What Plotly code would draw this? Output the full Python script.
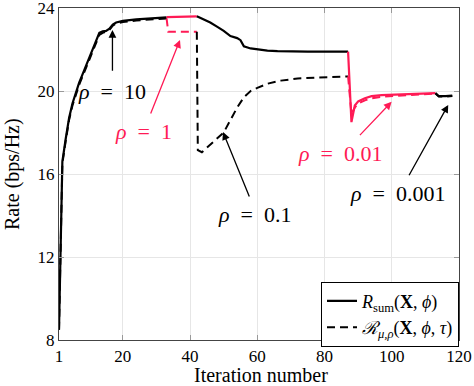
import plotly.graph_objects as go

RED = '#ff1a55'
FONT = 'Liberation Serif'

# R_sum(X, phi) solid line, pieces by rho value
sum_x_a = [1, 2, 3, 4, 5, 6, 7, 8, 9, 10, 11, 12, 13, 14, 15, 16, 17, 18, 20, 24, 28, 33]
sum_y_a = [8.5, 16.6, 17.7, 18.7, 19.4, 19.95, 20.4, 20.8, 21.2, 21.6, 22.0, 22.4, 22.8, 22.88,
           22.9, 23.0, 23.2, 23.3, 23.38, 23.45, 23.5, 23.55]
sum_x_b = [33, 36, 39, 42]
sum_y_b = [23.56, 23.58, 23.58, 23.6]
sum_x_c = [42, 44, 46, 48, 50, 52, 54, 55, 56, 58, 60, 63, 66, 70, 75, 80, 87]
sum_y_c = [23.6, 23.45, 23.3, 23.1, 22.9, 22.65, 22.55, 22.45, 22.15, 22.05, 22.0, 21.95,
           21.92, 21.9, 21.9, 21.9, 21.9]
sum_x_d = [87, 88, 89, 90, 92, 94, 97, 100, 104, 108, 113]
sum_y_d = [21.9, 18.5, 19.3, 19.5, 19.65, 19.75, 19.8, 19.82, 19.85, 19.88, 19.9]
sum_x_e = [113, 114, 116, 118]
sum_y_e = [19.9, 19.75, 19.75, 19.78]

# R_mu,rho(X, phi, tau) dashed line
pen_x_a = [1, 2, 3, 4, 5, 6, 7, 8, 9, 10, 11, 12, 13, 14, 15, 16, 17, 18, 20, 24, 28, 33]
pen_y_a = [8.5, 16.5, 17.6, 18.6, 19.3, 19.85, 20.3, 20.7, 21.1, 21.5, 21.9, 22.3, 22.7, 22.8,
           22.85, 22.95, 23.15, 23.25, 23.32, 23.4, 23.45, 23.5]
pen_x_b = [33, 33.5, 36, 39, 42]
pen_y_b = [23.5, 22.86, 22.86, 22.86, 22.86]
pen_x_c = [42, 42.3, 43.5, 46, 48, 50, 52, 54, 56, 58, 60, 63, 67, 72, 78, 87]
pen_y_c = [22.86, 17.15, 17.05, 17.4, 17.7, 18.0, 18.6, 19.2, 19.7, 20.0, 20.15, 20.35, 20.5,
           20.6, 20.65, 20.7]
pen_x_d = [87, 88, 89, 90, 92, 94, 97, 100, 104, 108, 113]
pen_y_d = [20.7, 18.9, 19.2, 19.4, 19.55, 19.65, 19.72, 19.75, 19.8, 19.85, 19.88]
pen_x_e = [113, 114, 116, 118]
pen_y_e = [19.88, 19.73, 19.73, 19.76]

# labels: text, text position, arrow head, arrow tail, colour
rho_text = ['<i>ρ</i>\u2002=\u200210', '<i>ρ</i>\u2002=\u20021', '<i>ρ</i>\u2002=\u20020.1',
            '<i>ρ</i>\u2002=\u20020.01', '<i>ρ</i>\u2002=\u20020.001']
rho_pos = [(16.9, 20.0), (26.0, 18.07), (59.3, 14.07), (84.6, 17.0), (101.6, 15.08)]
rho_head = [(16.9, 22.94), (37.0, 22.46), (49.8, 18.02), (99.96, 19.48), (116.8, 19.33)]
rho_tail = [(16.9, 20.9), (28.1, 18.84), (57.8, 14.84), (90.1, 17.8), (104.9, 15.87)]
rho_col = ['black', RED, 'black', RED, 'black']

x_ticks = [1, 20, 40, 60, 80, 100, 120]
y_ticks = [8, 12, 16, 20, 24]

fig = go.Figure()

dash = '8px,5px'
pen_parts = [(pen_x_a, pen_y_a, 'black'), (pen_x_b, pen_y_b, RED), (pen_x_c, pen_y_c, 'black'),
             (pen_x_d, pen_y_d, RED), (pen_x_e, pen_y_e, 'black')]
sum_parts = [(sum_x_a, sum_y_a, 'black'), (sum_x_b, sum_y_b, RED), (sum_x_c, sum_y_c, 'black'),
             (sum_x_d, sum_y_d, RED), (sum_x_e, sum_y_e, 'black')]

for xs, ys, c in pen_parts:
    fig.add_trace(go.Scatter(x=xs, y=ys, mode='lines', line=dict(color=c, width=2, dash=dash),
                             showlegend=False))
for xs, ys, c in sum_parts:
    fig.add_trace(go.Scatter(x=xs, y=ys, mode='lines', line=dict(color=c, width=2.2),
                             showlegend=False))

# legend entries
fig.add_trace(go.Scatter(x=[None], y=[None], mode='lines', line=dict(color='black', width=2.2),
                         name='<i>R</i><sub>sum</sub>(<b>X</b>, <i>ϕ</i>)'))
fig.add_trace(go.Scatter(x=[None], y=[None], mode='lines', line=dict(color='black', width=2, dash=dash),
                         name='<i>ℛ</i><sub><i>μ,ρ</i></sub>(<b>X</b>, <i>ϕ</i>, <i>τ</i>)'))

for t, p, h, tl, c in zip(rho_text, rho_pos, rho_head, rho_tail, rho_col):
    fig.add_annotation(x=h[0], y=h[1], ax=tl[0], ay=tl[1], axref='x', ayref='y', text='',
                       showarrow=True, arrowhead=2, arrowsize=1.2, arrowwidth=1.3, arrowcolor=c)
    fig.add_annotation(x=p[0], y=p[1], text=t, showarrow=False, font=dict(size=22, color=c, family=FONT))

# axis titles
fig.add_annotation(x=0.505, y=-0.105, xref='paper', yref='paper', text='Iteration number',
                   showarrow=False, yanchor='middle', font=dict(size=20, family=FONT))
fig.add_annotation(x=-0.1175, y=0.5, xref='paper', yref='paper', text='Rate (bps/Hz)', textangle=-90,
                   showarrow=False, xanchor='center', font=dict(size=20, family=FONT))

fig.update_layout(
    width=474, height=386,
    margin=dict(l=59, r=15, t=8, b=46),
    paper_bgcolor='white', plot_bgcolor='white',
    font=dict(family=FONT, size=17, color='black'),
    legend=dict(x=1, y=-0.02, xanchor='right', yanchor='bottom', bgcolor='white',
                bordercolor='black', borderwidth=1, font=dict(size=18, family=FONT), tracegroupgap=0,
                itemwidth=30),
)
fig.update_xaxes(range=[1, 120], tickvals=x_ticks, showgrid=True, gridcolor='#e6e6e6', gridwidth=1,
                 showline=True, linecolor='#444', linewidth=1.2, mirror='ticks', ticks='inside',
                 ticklen=5, tickcolor='#999', zeroline=False, automargin=False,
                 ticklabeloverflow='allow', tickfont=dict(family=FONT, size=17))
fig.update_yaxes(range=[8, 24], tickvals=y_ticks, showgrid=True, gridcolor='#e6e6e6', gridwidth=1,
                 showline=True, linecolor='#444', linewidth=1.2, mirror='ticks', ticks='inside',
                 ticklen=5, tickcolor='#999', zeroline=False, automargin=False,
                 ticklabeloverflow='allow', tickfont=dict(family=FONT, size=17))

# drop the default 8px page margin so the figure sits at the window corner
fig.write_html('out.html', config={'displayModeBar': False},
               post_script="document.body.style.margin='0';")
